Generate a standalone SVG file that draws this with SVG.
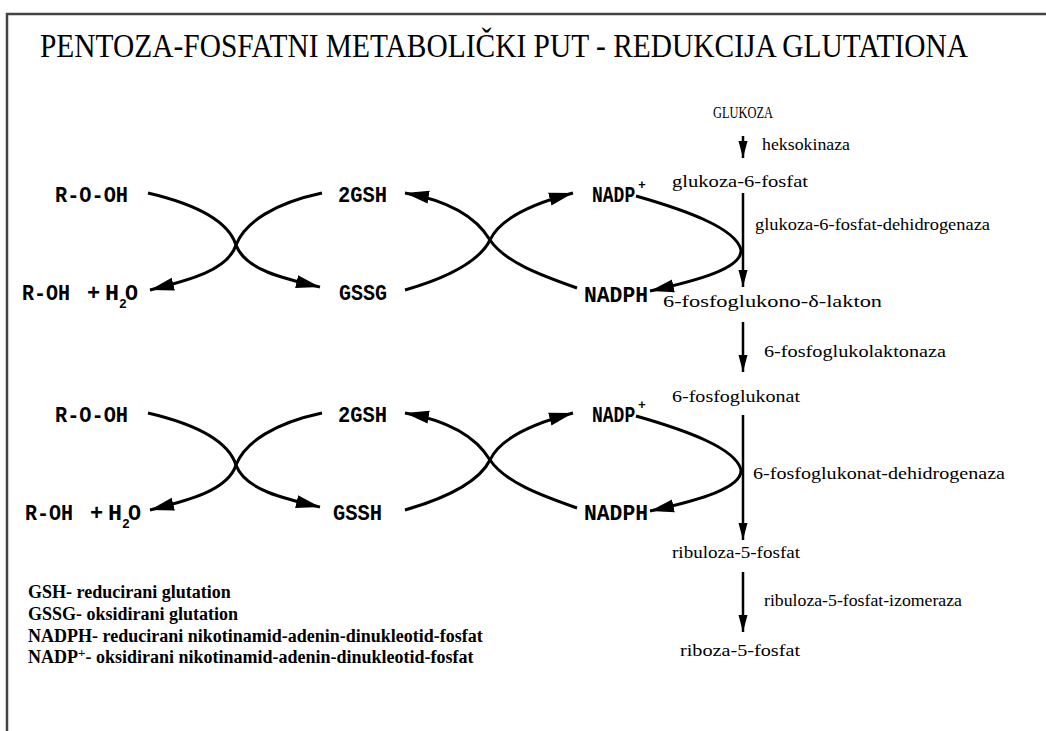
<svg xmlns="http://www.w3.org/2000/svg" width="1046" height="731" viewBox="0 0 1046 731">
<style>
.title{font-family:"Liberation Serif",serif;font-size:29px;fill:#000}
.lbl{font-family:"Liberation Mono",monospace;font-weight:bold;font-size:22px;fill:#000}
.nadp{font-family:"Liberation Mono",monospace;font-weight:bold;font-size:18px;fill:#000}
.sub{font-family:"Liberation Mono",monospace;font-weight:bold;font-size:13px;fill:#000}
.met{font-family:"Liberation Serif",serif;font-size:17px;fill:#000}
.leg{font-family:"Liberation Serif",serif;font-weight:bold;font-size:18px;fill:#000}
.cv{fill:none;stroke:#000;stroke-width:3}
.va{fill:none;stroke:#000;stroke-width:2.5}
</style>
<defs>
<marker id="ah" markerUnits="userSpaceOnUse" markerWidth="26" markerHeight="16" viewBox="0 0 26 16" refX="24" refY="8" orient="auto">
<path d="M0,1.5 L24,8 L0,14.5 Z" fill="#000"/>
</marker>
<marker id="vh" markerUnits="userSpaceOnUse" markerWidth="18" markerHeight="12" viewBox="0 0 18 12" refX="17" refY="6" orient="auto">
<path d="M0,1.5 L17,6 L0,10.5 Z" fill="#000"/>
</marker>
<g id="cycle">
<path class="cv" d="M148,193 C195,204 228,220 236,245 C245,270 285,279 320,287" marker-end="url(#ah)"/>
<path class="cv" d="M322,193 C275,203 245,222 236,245 C228,270 190,280 150,290" marker-end="url(#ah)"/>
<path class="cv" d="M577,288 C540,275 505,262 490,240 C475,215 445,200 405,193" marker-end="url(#ah)"/>
<path class="cv" d="M405,290 C450,277 480,260 490,240 C500,218 535,203 573,193" marker-end="url(#ah)"/>
<path class="cv" d="M636,196 C685,210 736,228 741,250 C742,268 700,280 650,291" marker-end="url(#ah)"/>
</g>
</defs>
<path id="frame" d="M7,731 V14 H1046" fill="none" stroke="#444" stroke-width="2.5"/>
<text class="title" transform="translate(40,57) scale(1,1.15)" x="0" y="0" textLength="928" lengthAdjust="spacingAndGlyphs">PENTOZA-FOSFATNI METABOLIČKI PUT - REDUKCIJA GLUTATIONA</text>

<g id="connectors">
<use href="#cycle"/>
<use href="#cycle" transform="translate(0,220)"/>
<line class="va" x1="743" y1="136" x2="743" y2="158" marker-end="url(#vh)"/>
<line class="va" x1="743" y1="193" x2="743" y2="287" marker-end="url(#vh)"/>
<line class="va" x1="743" y1="322" x2="743" y2="372" marker-end="url(#vh)"/>
<line class="va" x1="743" y1="415" x2="743" y2="540" marker-end="url(#vh)"/>
<line class="va" x1="743" y1="572" x2="743" y2="632" marker-end="url(#vh)"/>
</g>

<g id="row1">
<g id="rooh1"><text class="lbl" x="55" y="202" textLength="73" lengthAdjust="spacingAndGlyphs">R-O-OH</text></g>
<g id="roh1"><text class="lbl" x="22" y="300" textLength="48" lengthAdjust="spacingAndGlyphs">R-OH</text><text class="lbl" x="87" y="300">+</text><text class="lbl" x="105" y="300" textLength="14" lengthAdjust="spacingAndGlyphs">H</text><text class="sub" x="119" y="308">2</text><text class="lbl" x="125" y="300" textLength="13" lengthAdjust="spacingAndGlyphs">O</text></g>
<g id="gsh1"><text class="lbl" x="338" y="202" textLength="49" lengthAdjust="spacingAndGlyphs">2GSH</text></g>
<g id="gssg1"><text class="lbl" x="339" y="300" textLength="48" lengthAdjust="spacingAndGlyphs">GSSG</text></g>
<g id="nadp1"><text class="nadp" transform="translate(592,202) scale(1,1.2)">NADP</text><text class="sub" x="638" y="189">+</text></g>
<g id="nadph1"><text class="lbl" x="584" y="302" textLength="64" lengthAdjust="spacingAndGlyphs">NADPH</text></g>
</g>

<g id="row2">
<g id="rooh2"><text class="lbl" x="55" y="422" textLength="73" lengthAdjust="spacingAndGlyphs">R-O-OH</text></g>
<g id="roh2"><text class="lbl" x="25" y="520" textLength="48" lengthAdjust="spacingAndGlyphs">R-OH</text><text class="lbl" x="90" y="520">+</text><text class="lbl" x="108" y="520" textLength="14" lengthAdjust="spacingAndGlyphs">H</text><text class="sub" x="122" y="528">2</text><text class="lbl" x="128" y="520" textLength="13" lengthAdjust="spacingAndGlyphs">O</text></g>
<g id="gsh2"><text class="lbl" x="338" y="422" textLength="49" lengthAdjust="spacingAndGlyphs">2GSH</text></g>
<g id="gssh2"><text class="lbl" x="333" y="520" textLength="49" lengthAdjust="spacingAndGlyphs">GSSH</text></g>
<g id="nadp2"><text class="nadp" transform="translate(592,422) scale(1,1.2)">NADP</text><text class="sub" x="638" y="409">+</text></g>
<g id="nadph2"><text class="lbl" x="584" y="520" textLength="64" lengthAdjust="spacingAndGlyphs">NADPH</text></g>
</g>

<g id="pathway">
<g id="glukoza"><text class="met" x="713" y="118" font-size="13" textLength="60" lengthAdjust="spacingAndGlyphs">GLUKOZA</text></g>
<g id="heksokinaza"><text class="met" x="762" y="150" textLength="88" lengthAdjust="spacingAndGlyphs">heksokinaza</text></g>
<g id="g6p"><text class="met" x="672" y="187" textLength="136" lengthAdjust="spacingAndGlyphs">glukoza-6-fosfat</text></g>
<g id="g6pd"><text class="met" x="755" y="230" textLength="235" lengthAdjust="spacingAndGlyphs">glukoza-6-fosfat-dehidrogenaza</text></g>
<g id="lakton"><text class="met" x="663" y="307" textLength="219" lengthAdjust="spacingAndGlyphs">6-fosfoglukono-δ-lakton</text></g>
<g id="laktonaza"><text class="met" x="764" y="357" textLength="182" lengthAdjust="spacingAndGlyphs">6-fosfoglukolaktonaza</text></g>
<g id="glukonat"><text class="met" x="672" y="402" textLength="128" lengthAdjust="spacingAndGlyphs">6-fosfoglukonat</text></g>
<g id="pgd"><text class="met" x="753" y="479" textLength="252" lengthAdjust="spacingAndGlyphs">6-fosfoglukonat-dehidrogenaza</text></g>
<g id="ribuloza"><text class="met" x="672" y="558" textLength="128" lengthAdjust="spacingAndGlyphs">ribuloza-5-fosfat</text></g>
<g id="izomeraza"><text class="met" x="764" y="606" textLength="198" lengthAdjust="spacingAndGlyphs">ribuloza-5-fosfat-izomeraza</text></g>
<g id="riboza"><text class="met" x="680" y="656" textLength="120" lengthAdjust="spacingAndGlyphs">riboza-5-fosfat</text></g>
</g>

<g id="legend">
<text class="leg" x="28" y="598">GSH- reducirani glutation</text>
<text class="leg" x="28" y="620">GSSG- oksidirani glutation</text>
<text class="leg" x="28" y="642">NADPH- reducirani nikotinamid-adenin-dinukleotid-fosfat</text>
<text class="leg" x="28" y="663">NADP<tspan dy="-6" font-size="13">+</tspan><tspan dy="6">- oksidirani nikotinamid-adenin-dinukleotid-fosfat</tspan></text>
</g>
</svg>
